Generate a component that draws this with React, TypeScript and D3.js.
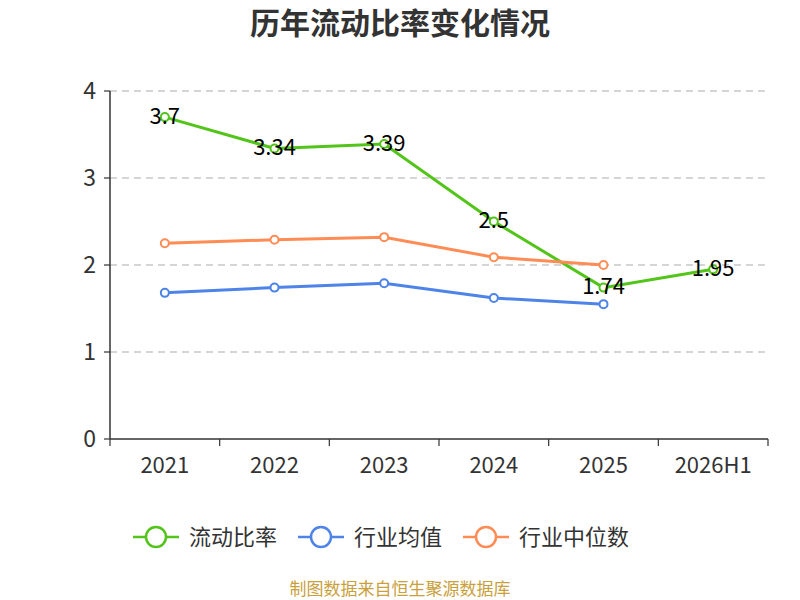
import React from 'react';
import * as d3 from 'd3';

const categories = ['2021', '2022', '2023', '2024', '2025', '2026H1'];
const currentRatio = [3.7, 3.34, 3.39, 2.5, 1.74, 1.95];
const industryAvg = [1.68, 1.74, 1.79, 1.62, 1.55, null];
const industryMedian = [2.25, 2.29, 2.32, 2.09, 2.0, null];
const yTicks = [0, 1, 2, 3, 4];

const seriesList = [
  { name: '流动比率', color: '#52c41a', values: currentRatio },
  { name: '行业均值', color: '#4e83e8', values: industryAvg },
  { name: '行业中位数', color: '#ff8c55', values: industryMedian },
];

const W = 800;
const H = 600;
const margin = { top: 91, right: 32, bottom: 161, left: 110 };
const font = '"Microsoft YaHei", "Noto Sans CJK SC", "Noto Sans", sans-serif';

export default function App() {
  const innerW = W - margin.left - margin.right;
  const innerH = H - margin.top - margin.bottom;

  const x = d3.scaleBand<string>().domain(categories).range([0, innerW]);
  const y = d3.scaleLinear().domain([0, 4]).range([innerH, 0]);
  const cx = (c: string) => (x(c) ?? 0) + x.bandwidth() / 2;

  const line = d3
    .line<[string, number | null]>()
    .defined((d) => d[1] !== null)
    .x((d) => cx(d[0]))
    .y((d) => y(d[1] as number));

  // legend item left edges
  const legendX = [133, 298, 463];

  return (
    <svg width={W} height={H} style={{ position: 'absolute', left: 0, top: 0, fontFamily: font }}>
      <rect width={W} height={H} fill="#fff" />
      <text x={W / 2} y={23} dy="0.35em" textAnchor="middle" fontSize={30} fontWeight="bold" fill="#333">
        历年流动比率变化情况
      </text>

      <g transform={`translate(${margin.left},${margin.top})`}>
        {yTicks.map((t) => (
          <g key={t}>
            {t > 0 && (
              <line x1={0} x2={innerW} y1={y(t)} y2={y(t)} stroke="#c8c8c8" strokeDasharray="7,5" strokeWidth={1.4} />
            )}
            <line x1={-6} x2={0} y1={y(t)} y2={y(t)} stroke="#333" strokeWidth={1.2} />
            <text x={-14} y={y(t)} dy="0.35em" textAnchor="end" fontSize={23} fill="#333">
              {t}
            </text>
          </g>
        ))}
        <line x1={0} x2={0} y1={0} y2={innerH} stroke="#333" strokeWidth={1.5} />
        <line x1={0} x2={innerW} y1={innerH} y2={innerH} stroke="#333" strokeWidth={1.5} />
        {categories.map((c, i) => (
          <g key={c}>
            <line x1={x(c)} x2={x(c)} y1={innerH} y2={innerH + 7} stroke="#333" strokeWidth={1.2} />
            {i === categories.length - 1 && (
              <line x1={innerW} x2={innerW} y1={innerH} y2={innerH + 7} stroke="#333" strokeWidth={1.2} />
            )}
            <text x={cx(c)} y={innerH + 26} dy="0.35em" textAnchor="middle" fontSize={22} fill="#333">
              {c}
            </text>
          </g>
        ))}

        {seriesList.map((s) => {
          const pts = categories.map((c, i) => [c, s.values[i]] as [string, number | null]);
          return (
            <g key={s.name}>
              <path d={line(pts) ?? ''} fill="none" stroke={s.color} strokeWidth={3} />
              {pts
                .filter((p) => p[1] !== null)
                .map((p) => (
                  <circle key={p[0]} cx={cx(p[0])} cy={y(p[1] as number)} r={4} fill="#fff" stroke={s.color} strokeWidth={2} />
                ))}
            </g>
          );
        })}
        {categories.map((c, i) => (
          <text key={c} x={cx(c)} y={y(currentRatio[i])} dy="0.3em" textAnchor="middle" fontSize={22} fill="#000">
            {currentRatio[i]}
          </text>
        ))}
      </g>

      {seriesList.map((s, i) => (
        <g key={s.name} transform={`translate(${legendX[i]},537)`}>
          <line x1={0} x2={46} y1={0} y2={0} stroke={s.color} strokeWidth={2.5} />
          <circle cx={23} cy={0} r={10} fill="#fff" stroke={s.color} strokeWidth={2.5} />
          <text x={56} y={0} dy="0.35em" fontSize={22} fill="#333">
            {s.name}
          </text>
        </g>
      ))}

      <text x={W / 2} y={589} dy="0.35em" textAnchor="middle" fontSize={17} fill="#c9a03c">
        制图数据来自恒生聚源数据库
      </text>
    </svg>
  );
}
